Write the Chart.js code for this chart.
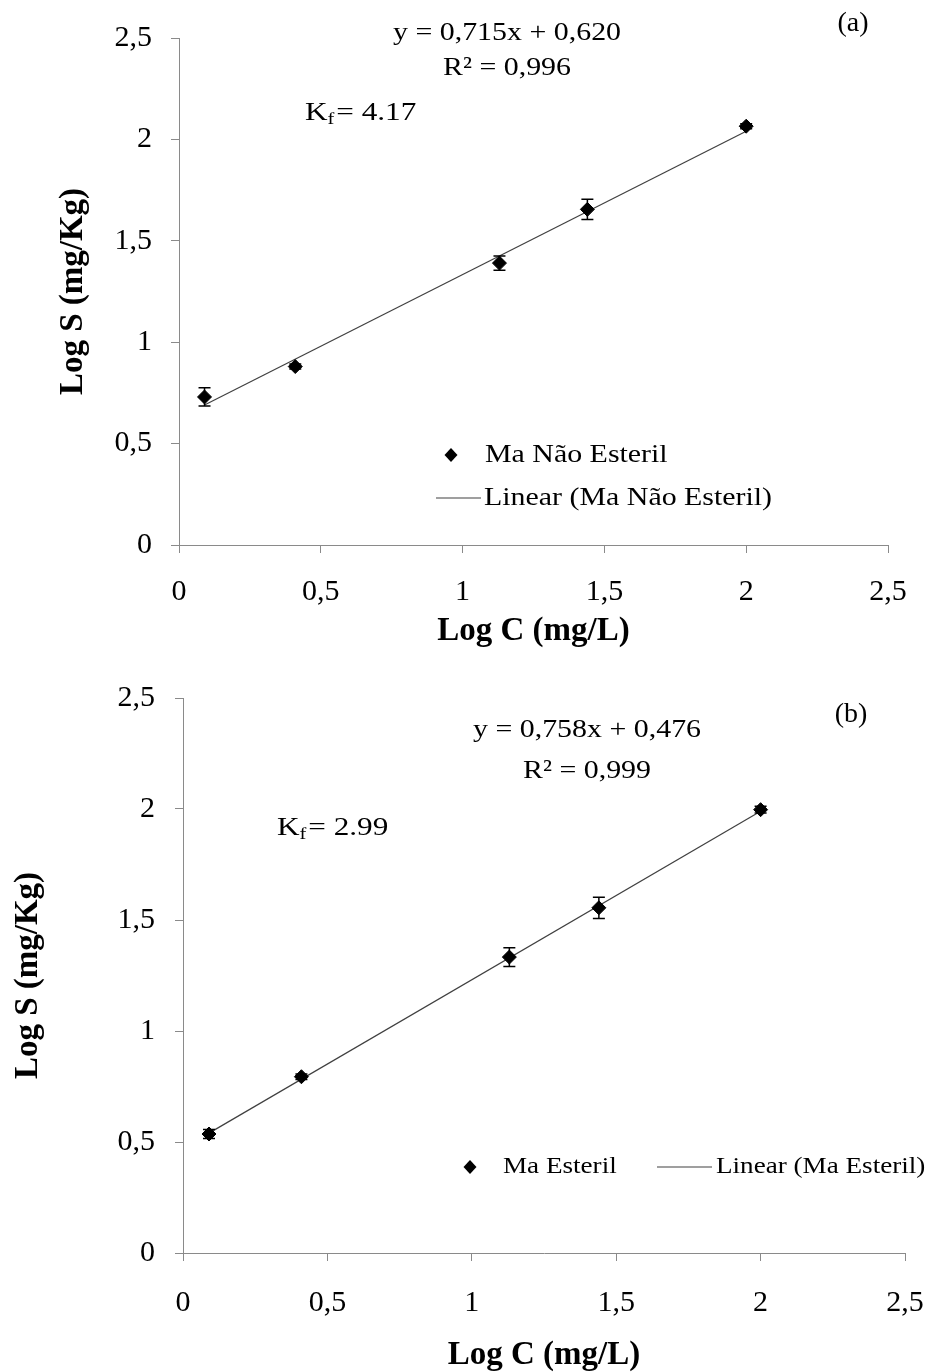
<!DOCTYPE html>
<html>
<head>
<meta charset="utf-8">
<script src="https://cdn.jsdelivr.net/npm/chart.js@4"></script>
<style>
  body { margin: 0; background: #fff; }
  .wrap { position: absolute; left: 0; width: 929px; }
</style>
</head>
<body>
<div class="wrap" style="top:0;height:660px"><canvas id="chartA" width="929" height="660"></canvas></div>
<div class="wrap" style="top:660px;height:712px"><canvas id="chartB" width="929" height="712"></canvas></div>
<script>
const tickLabels = ['0', '0,5', '1', '1,5', '2', '2,5'];
const logC = [0.09, 0.41, 1.13, 1.44, 2.0];

// (a) Ma Não Esteril
const logSNaoEsteril = [0.73, 0.88, 1.39, 1.655, 2.065];
const errNaoEsteril = [0.045, 0.012, 0.035, 0.05, 0.012];
const fitXNaoEsteril = [0.09, 2.0];
const fitYNaoEsteril = [0.69, 2.04];

// (b) Ma Esteril
const logSEsteril = [0.536, 0.794, 1.333, 1.555, 1.997];
const errEsteril = [0.02, 0.012, 0.042, 0.048, 0.015];
const fitXEsteril = [0.09, 2.0];
const fitYEsteril = [0.54, 1.99];

const SERIF = '"Liberation Serif", "Times New Roman", serif';
const AXIS_GRAY = '#8a8a8a';

// text in the source is a bit wider than Liberation Serif
function wideText(ctx, text, x, y, k) {
  ctx.save();
  ctx.translate(x, y);
  ctx.scale(k, 1);
  ctx.fillText(text, 0, 0);
  ctx.restore();
  return ctx.measureText(text).width * k;
}

// vertical error bars, drawn from the y scale
const errorBars = {
  id: 'errorBars',
  afterDatasetsDraw(chart) {
    const { ctx, scales: { x, y } } = chart;
    chart.data.datasets.forEach(ds => {
      if (!ds.errors) return;
      ctx.save();
      ctx.strokeStyle = '#000';
      ctx.lineWidth = 1.5;
      ds.data.forEach((p, i) => {
        const px = x.getPixelForValue(p.x);
        const top = y.getPixelForValue(p.y + ds.errors[i]);
        const bot = y.getPixelForValue(p.y - ds.errors[i]);
        ctx.beginPath();
        ctx.moveTo(px, top); ctx.lineTo(px, bot);
        ctx.moveTo(px - 6, top); ctx.lineTo(px + 6, top);
        ctx.moveTo(px - 6, bot); ctx.lineTo(px + 6, bot);
        ctx.stroke();
      });
      ctx.restore();
    });
  }
};

// free text: equation, R², Kf and panel letter
const notes = {
  id: 'notes',
  afterDraw(chart, args, opts) {
    const ctx = chart.ctx;
    ctx.save();
    ctx.fillStyle = '#000';
    ctx.textBaseline = 'middle';
    (opts.items || []).forEach(n => {
      const k = n.k || 1;
      ctx.font = n.size + 'px ' + SERIF;
      ctx.textAlign = n.align || 'left';
      if (n.sub) {
        let x = n.x;
        ctx.textAlign = 'left';
        x += wideText(ctx, n.text, x, n.y, k);
        ctx.font = Math.round(n.size * 0.65) + 'px ' + SERIF;
        x += wideText(ctx, n.sub, x, n.y + 7, k) + 2;
        ctx.font = n.size + 'px ' + SERIF;
        wideText(ctx, n.rest, x, n.y, k);
      } else {
        wideText(ctx, n.text, n.x, n.y, k);
      }
    });
    ctx.restore();
  }
};

// legend inside the plot, built from the dataset labels
const innerLegend = {
  id: 'innerLegend',
  afterDraw(chart, args, opts) {
    const ctx = chart.ctx;
    const [pts, fit] = chart.data.datasets;
    ctx.save();
    ctx.font = opts.size + 'px ' + SERIF;
    ctx.textBaseline = 'middle';
    ctx.textAlign = 'left';
    ctx.fillStyle = '#000';
    const m = opts.marker;
    ctx.beginPath();
    ctx.moveTo(m.x, m.y - 7);
    ctx.lineTo(m.x + 6.5, m.y);
    ctx.lineTo(m.x, m.y + 7);
    ctx.lineTo(m.x - 6.5, m.y);
    ctx.closePath();
    ctx.fill();
    wideText(ctx, pts.label, m.tx, m.y, opts.k);
    const l = opts.line;
    ctx.strokeStyle = fit.borderColor;
    ctx.lineWidth = 1.2;
    ctx.beginPath();
    ctx.moveTo(l.x0, l.y);
    ctx.lineTo(l.x1, l.y);
    ctx.stroke();
    wideText(ctx, fit.label, l.tx, l.y, opts.k);
    ctx.restore();
  }
};

function makeChart(id, p) {
  const points = logC.map((x, i) => ({ x: x, y: p.values[i] }));
  const fitLine = p.fitX.map((x, i) => ({ x: x, y: p.fitY[i] }));
  return new Chart(document.getElementById(id), {
    type: 'scatter',
    data: {
      datasets: [
        {
          label: p.label,
          data: points,
          errors: p.errors,
          pointStyle: 'rectRot',
          pointRadius: 7,
          backgroundColor: '#000',
          borderColor: '#000',
          borderWidth: 1
        },
        {
          label: 'Linear (' + p.label + ')',
          data: fitLine,
          showLine: true,
          borderColor: '#404040',
          borderWidth: 1.2,
          pointRadius: 0
        }
      ]
    },
    options: {
      responsive: false,
      animation: false,
      layout: { padding: { left: 0, top: p.area.top, right: 929 - p.area.right, bottom: 0 } },
      plugins: {
        legend: { display: false },
        tooltip: { enabled: false },
        notes: { items: p.notes },
        innerLegend: p.legend
      },
      scales: {
        x: {
          type: 'linear',
          min: 0, max: 2.5,
          afterFit: s => {
            s.height = p.height - p.area.bottom;
            s.paddingLeft = 0;
            s.paddingRight = 0;
          },
          ticks: {
            stepSize: 0.5,
            padding: p.xTickPad,
            color: '#000',
            font: { family: SERIF, size: 30 },
            callback: (v, i) => tickLabels[i]
          },
          grid: { drawOnChartArea: false, tickLength: 8, color: AXIS_GRAY },
          border: { color: AXIS_GRAY },
          title: {
            display: true,
            text: 'Log C (mg/L)',
            color: '#000',
            font: { family: SERIF, size: 33, weight: 'bold', lineHeight: 1 },
            padding: { top: 0, bottom: p.xTitlePad }
          }
        },
        y: {
          min: 0, max: 2.5,
          afterFit: s => { s.width = p.area.left; },
          ticks: {
            stepSize: 0.5,
            padding: p.yTickPad,
            color: '#000',
            font: { family: SERIF, size: 30 },
            callback: (v, i) => tickLabels[i]
          },
          grid: { drawOnChartArea: false, tickLength: 8, color: AXIS_GRAY },
          border: { color: AXIS_GRAY },
          title: {
            display: true,
            text: 'Log S (mg/Kg)',
            color: '#000',
            font: { family: SERIF, size: 33, weight: 'bold', lineHeight: 1 },
            padding: { top: p.yTitlePad, bottom: 0 }
          }
        }
      }
    },
    plugins: [errorBars, notes, innerLegend]
  });
}

makeChart('chartA', {
  label: 'Ma Não Esteril',
  values: logSNaoEsteril,
  errors: errNaoEsteril,
  fitX: fitXNaoEsteril,
  fitY: fitYNaoEsteril,
  height: 660,
  area: { left: 179, right: 888, top: 38, bottom: 545 },
  xTickPad: 21, yTickPad: 19, xTitlePad: 12, yTitlePad: 57,
  notes: [
    { text: 'y = 0,715x + 0,620', x: 507, y: 33, size: 26, align: 'center', k: 1.15 },
    { text: 'R² = 0,996', x: 507, y: 68, size: 26, align: 'center', k: 1.15 },
    { text: 'K', sub: 'f', rest: '= 4.17', x: 305, y: 113, size: 26, k: 1.2 },
    { text: '(a)', x: 853, y: 24, size: 28, align: 'center' }
  ],
  legend: {
    size: 26, k: 1.15,
    marker: { x: 451, y: 455, tx: 485 },
    line: { x0: 436, x1: 481, y: 498, tx: 484 }
  }
});

makeChart('chartB', {
  label: 'Ma Esteril',
  values: logSEsteril,
  errors: errEsteril,
  fitX: fitXEsteril,
  fitY: fitYEsteril,
  height: 712,
  area: { left: 183, right: 905, top: 32, bottom: 593 },
  xTickPad: 24, yTickPad: 20, xTitlePad: 0, yTitlePad: 12,
  notes: [
    { text: 'y = 0,758x + 0,476', x: 587, y: 70, size: 26, align: 'center', k: 1.15 },
    { text: 'R² = 0,999', x: 587, y: 111, size: 26, align: 'center', k: 1.15 },
    { text: 'K', sub: 'f', rest: '= 2.99', x: 277, y: 168, size: 26, k: 1.2 },
    { text: '(b)', x: 851, y: 55, size: 28, align: 'center' }
  ],
  legend: {
    size: 24, k: 1.13,
    marker: { x: 470, y: 507, tx: 503 },
    line: { x0: 657, x1: 712, y: 507, tx: 716 }
  }
});
</script>
</body>
</html>
